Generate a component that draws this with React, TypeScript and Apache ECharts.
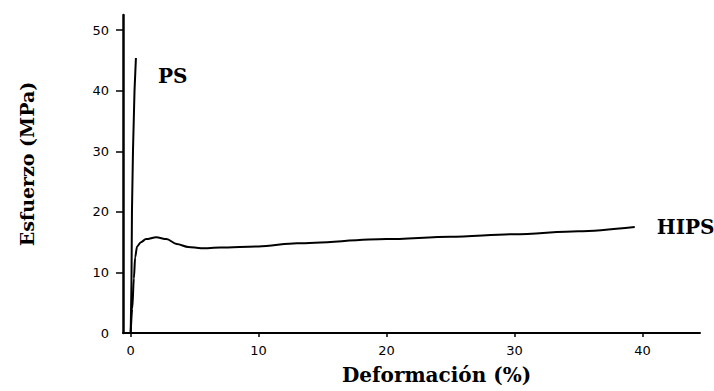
import React, { useEffect, useRef } from "react";
import * as echarts from "echarts";

const xTicks = [0, 10, 20, 30, 40];
const yTicks = [0, 10, 20, 30, 40, 50];

// PS: deformación (%), esfuerzo (MPa)
const psX = [0, 0.06, 0.1, 0.18, 0.3, 0.41];
const psY = [0, 8, 20, 30, 40, 45.4];

// HIPS
const hipsX = [0, 0.12, 0.25, 0.35, 0.5, 0.8, 1.2, 2.0, 2.8, 3.6, 4.5, 5.5, 7, 10, 13, 20, 25, 30, 35, 39.4];
const hipsY = [0, 4, 9, 12.5, 14.3, 15.0, 15.5, 15.8, 15.5, 14.7, 14.2, 14.0, 14.1, 14.3, 14.8, 15.5, 15.9, 16.3, 16.8, 17.5];

const seriesNames = ["PS", "HIPS"];

export default function App() {
  const ref = useRef<HTMLDivElement>(null);
  useEffect(() => {
    if (!ref.current) return;
    const chart = echarts.init(ref.current, null, { renderer: "svg" });
    const serif = "DejaVu Serif";
    const labelFont = { fontFamily: serif, fontWeight: "bold", fontSize: 20, color: "#000" };
    chart.setOption({
      animation: false,
      backgroundColor: "#fff",
      grid: { left: 123, right: 14, top: 15, bottom: 58, containLabel: false },
      xAxis: {
        type: "value",
        min: -0.6,
        max: 44.5,
        name: "Deformación (%)",
        nameLocation: "middle",
        nameGap: 32,
        nameTextStyle: { fontFamily: serif, fontWeight: "bold", fontSize: 20, color: "#000", padding: [0, 0, 0, 50] },
        axisLine: { lineStyle: { color: "#000", width: 2 } },
        axisTick: { show: true, length: 4, customValues: xTicks, lineStyle: { color: "#000", width: 1.5 } },
        axisLabel: { customValues: xTicks, margin: 11, fontFamily: "DejaVu Sans", fontSize: 13, color: "#000" },
        splitLine: { show: false },
      },
      yAxis: {
        type: "value",
        min: 0,
        max: 52.5,
        name: "Esfuerzo (MPa)",
        nameLocation: "middle",
        nameRotate: 90,
        nameGap: 87,
        nameTextStyle: { fontFamily: serif, fontWeight: "bold", fontSize: 19, color: "#000", padding: [0, 0, 0, 20] },
        axisLine: { onZero: false, lineStyle: { color: "#000", width: 2.5 } },
        axisTick: { show: true, length: 7, customValues: yTicks.slice(1), lineStyle: { color: "#000", width: 1.5 } },
        axisLabel: { customValues: yTicks, margin: 14, fontFamily: "DejaVu Sans", fontSize: 13, color: "#000" },
        splitLine: { show: false },
      },
      series: [
        {
          name: seriesNames[0],
          type: "line",
          showSymbol: false,
          data: psX.map((x, i) => [x, psY[i]]),
          lineStyle: { color: "#000", width: 2 },
          endLabel: { show: true, formatter: seriesNames[0], ...labelFont, distance: 0, offset: [22, 18] },
        },
        {
          name: seriesNames[1],
          type: "line",
          showSymbol: false,
          smooth: 0.3,
          smoothMonotone: "x",
          data: hipsX.map((x, i) => [x, hipsY[i]]),
          lineStyle: { color: "#000", width: 2 },
          endLabel: { show: true, formatter: seriesNames[1], ...labelFont, distance: 22 },
        },
      ],
    });
    return () => chart.dispose();
  }, []);
  return <div ref={ref} style={{ width: 714, height: 391, position: "absolute", left: 0, top: 0 }} />;
}
